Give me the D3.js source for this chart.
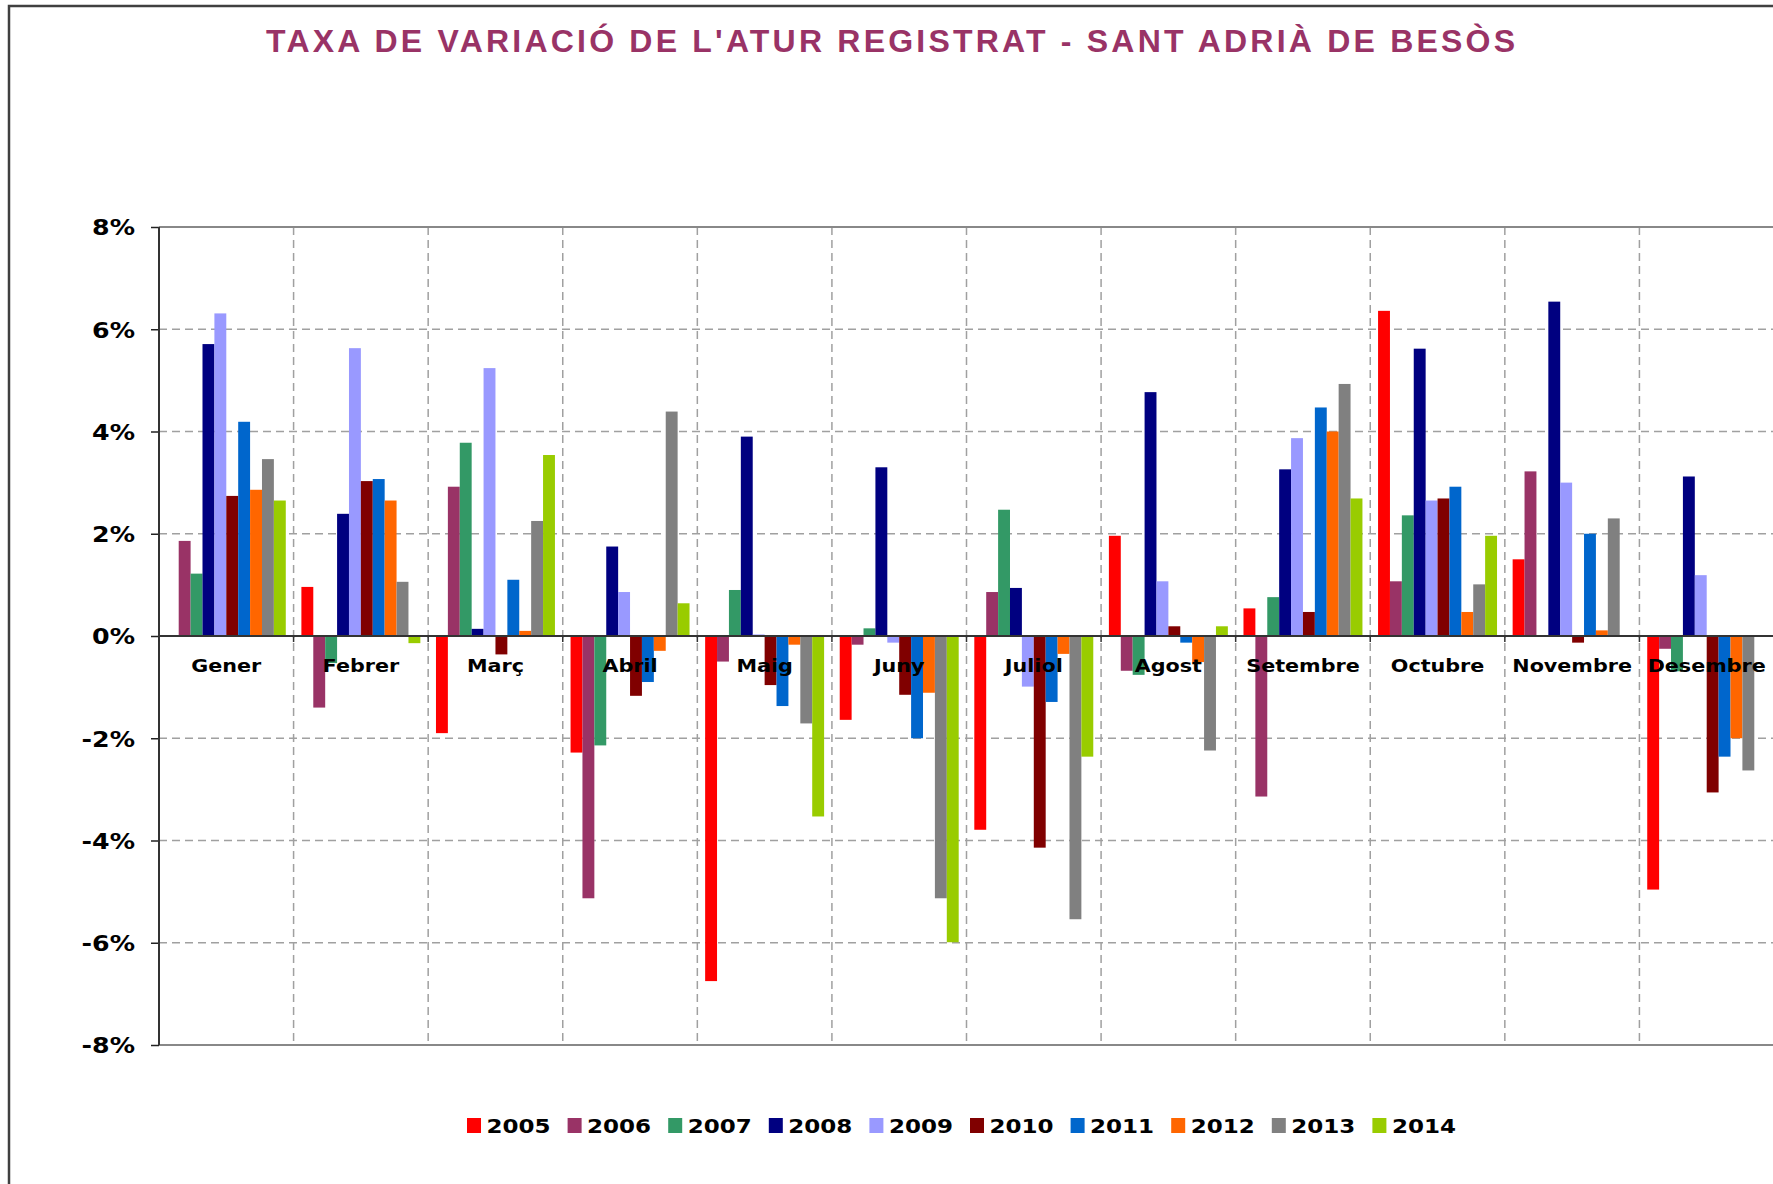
<!DOCTYPE html>
<html>
<head>
<meta charset="utf-8">
<script src="https://cdn.jsdelivr.net/npm/d3@7"></script>
<style>
  body { margin: 0; background: #fff; }
  svg { display: block; }
</style>
</head>
<body>
<div id="chart"></div>
<script>
// months and years
var months = ["Gener", "Febrer", "Març", "Abril", "Maig", "Juny", "Juliol", "Agost", "Setembre", "Octubre", "Novembre", "Desembre"];
var years = ["2005", "2006", "2007", "2008", "2009", "2010", "2011", "2012", "2013", "2014"];

// variation rate in %, one array per year (null = no bar)
var v2005 = [null, 0.96, -1.90, -2.28, -6.75, -1.64, -3.79, 1.96, 0.54, 6.36, 1.50, -4.96];
var v2006 = [1.86, -1.40, 2.92, -5.13, -0.50, -0.17, 0.86, -0.68, -3.14, 1.07, 3.22, -0.25];
var v2007 = [1.22, -0.53, 3.78, -2.14, 0.90, 0.15, 2.47, -0.76, 0.76, 2.36, null, -0.69];
var v2008 = [5.71, 2.39, 0.14, 1.75, 3.90, 3.30, 0.94, 4.77, 3.26, 5.62, 6.54, 3.12];
var v2009 = [6.31, 5.63, 5.24, 0.86, 0.03, -0.13, -0.99, 1.07, 3.87, 2.65, 3.00, 1.19];
var v2010 = [2.74, 3.03, -0.36, -1.17, -0.96, -1.15, -4.14, 0.19, 0.47, 2.69, -0.13, -3.06];
var v2011 = [4.19, 3.07, 1.10, -0.90, -1.37, -2.00, -1.29, -0.13, 4.47, 2.92, 2.00, -2.36];
var v2012 = [2.86, 2.65, 0.10, -0.29, -0.17, -1.11, -0.35, -0.51, 4.00, 0.47, 0.11, -2.00];
var v2013 = [3.46, 1.06, 2.25, 4.39, -1.71, -5.13, -5.54, -2.24, 4.93, 1.01, 2.30, -2.63];
var v2014 = [2.65, -0.14, 3.54, 0.64, -3.53, -5.99, -2.36, 0.19, 2.69, 1.96, null, null];

var yTicks = [-8, -6, -4, -2, 0, 2, 4, 6, 8];
var colors = ["#FF0000", "#993366", "#339966", "#000080", "#9999FF", "#800000", "#0066CC", "#FF6600", "#808080", "#99CC00"];

var series = [v2005, v2006, v2007, v2008, v2009, v2010, v2011, v2012, v2013, v2014];

var W = 1773, H = 1184;
var margin = {left: 159, right: -1, top: 227, bottom: 139};
var plotW = W - margin.left - margin.right,
    plotH = H - margin.top - margin.bottom;
var stretch = 1.15;

var svg = d3.select("#chart").append("svg")
  .attr("width", W)
  .attr("height", H);

// outer frame
svg.append("path")
  .attr("d", "M9," + H + " V6 H" + W)
  .attr("fill", "none")
  .attr("stroke", "#404040")
  .attr("stroke-width", 2.5);

// title
svg.append("text")
  .text("TAXA DE VARIACIÓ DE L'ATUR REGISTRAT - SANT ADRIÀ DE BESÒS")
  .attr("x", 266)
  .attr("y", 52)
  .attr("font-family", "Liberation Sans, Arial, sans-serif")
  .attr("font-weight", "bold")
  .attr("font-size", "32px")
  .attr("fill", "#993366")
  .attr("textLength", 1249)
  .attr("lengthAdjust", "spacing");

var g = svg.append("g")
  .attr("transform", "translate(" + margin.left + "," + margin.top + ")");

var x0 = d3.scaleBand()
  .domain(months)
  .range([0, plotW])
  .paddingInner(0.116)
  .paddingOuter(0.058);

var x1 = d3.scaleBand()
  .domain(years)
  .range([0, x0.bandwidth()]);

var y = d3.scaleLinear()
  .domain([-8, 8])
  .range([plotH, 0]);

var step = x0.step();

// horizontal gridlines
g.selectAll(".hgrid")
  .data(yTicks.filter(function(d) { return d !== 0 && Math.abs(d) !== 8; }))
  .enter().append("line")
    .attr("class", "hgrid")
    .attr("x1", 0).attr("x2", plotW)
    .attr("y1", function(d) { return y(d); })
    .attr("y2", function(d) { return y(d); })
    .attr("stroke", "#a0a0a0")
    .attr("stroke-width", 1.5)
    .attr("stroke-dasharray", "8,5");

// vertical gridlines between months
g.selectAll(".vgrid")
  .data(months.slice(1))
  .enter().append("line")
    .attr("class", "vgrid")
    .attr("x1", function(d, i) { return (i + 1) * step; })
    .attr("x2", function(d, i) { return (i + 1) * step; })
    .attr("y1", 0).attr("y2", plotH)
    .attr("stroke", "#a0a0a0")
    .attr("stroke-width", 1.5)
    .attr("stroke-dasharray", "8,5");

// plot border top / bottom
g.selectAll(".border")
  .data([8, -8])
  .enter().append("line")
    .attr("x1", 0).attr("x2", plotW)
    .attr("y1", function(d) { return y(d); })
    .attr("y2", function(d) { return y(d); })
    .attr("stroke", "#888")
    .attr("stroke-width", 2);

// bars
var groups = g.selectAll(".month")
  .data(months)
  .enter().append("g")
    .attr("class", "month")
    .attr("transform", function(d) { return "translate(" + x0(d) + ",0)"; });

groups.selectAll("rect")
  .data(function(m, mi) {
    return series.map(function(s, si) { return {year: years[si], value: s[mi], color: colors[si]}; })
      .filter(function(d) { return d.value !== null; });
  })
  .enter().append("rect")
    .attr("x", function(d) { return x1(d.year); })
    .attr("width", x1.bandwidth())
    .attr("y", function(d) { return Math.min(y(d.value), y(0)); })
    .attr("height", function(d) { return Math.abs(y(d.value) - y(0)); })
    .attr("fill", function(d) { return d.color; });

// y axis
var yAxis = d3.axisLeft(y)
  .tickValues(yTicks)
  .tickSize(8)
  .tickPadding(16)
  .tickFormat(function(d) { return d + "%"; });

var yAxisG = g.append("g")
  .attr("class", "y-axis")
  .call(yAxis);
yAxisG.select(".domain").remove();
yAxisG.selectAll("line").attr("stroke", "#222").attr("stroke-width", 1.5);
yAxisG.append("line")
  .attr("x1", 0).attr("x2", 0)
  .attr("y1", 0).attr("y2", plotH)
  .attr("stroke", "#333").attr("stroke-width", 2);
yAxisG.selectAll("text")
  .attr("font-family", "DejaVu Sans, Verdana, sans-serif")
  .attr("font-weight", "bold")
  .attr("font-size", "22px")
  .attr("fill", "#000")
  .attr("dy", "0.36em")
  .attr("transform", function(d) { return "translate(-24," + 0 + ") scale(" + stretch + ",1) translate(24,0)"; });

// fix scaled tick labels so they stay right aligned at x = -24
yAxisG.selectAll(".tick text")
  .attr("x", 0)
  .attr("transform", "translate(-24,0) scale(" + stretch + ",1)");

// x axis line at 0
var zeroY = y(0);
g.append("line")
  .attr("x1", 0).attr("x2", plotW)
  .attr("y1", zeroY).attr("y2", zeroY)
  .attr("stroke", "#333").attr("stroke-width", 2);

g.selectAll(".xtick")
  .data(d3.range(0, months.length + 1))
  .enter().append("line")
    .attr("x1", function(d) { return d * step; })
    .attr("x2", function(d) { return d * step; })
    .attr("y1", zeroY).attr("y2", zeroY + 6)
    .attr("stroke", "#333").attr("stroke-width", 1.5);

// month labels
g.selectAll(".mlabel")
  .data(months)
  .enter().append("text")
    .attr("class", "mlabel")
    .text(function(d) { return d; })
    .attr("text-anchor", "middle")
    .attr("font-family", "DejaVu Sans, Verdana, sans-serif")
    .attr("font-weight", "bold")
    .attr("font-size", "18px")
    .attr("fill", "#000")
    .attr("transform", function(d) {
      return "translate(" + (x0(d) - x0.step() * x0.paddingInner() / 2 + step / 2) + "," + (zeroY + 36) + ") scale(" + stretch + ",1)";
    });

// legend
var legend = svg.append("g")
  .attr("transform", "translate(467,1118)");

var item = legend.selectAll(".item")
  .data(years)
  .enter().append("g")
    .attr("class", "item")
    .attr("transform", function(d, i) { return "translate(" + (i * 100.6) + ",0)"; });

item.append("rect")
  .attr("width", 14)
  .attr("height", 15)
  .attr("fill", function(d, i) { return colors[i]; });

item.append("text")
  .text(function(d) { return d; })
  .attr("font-family", "DejaVu Sans, Verdana, sans-serif")
  .attr("font-weight", "bold")
  .attr("font-size", "20px")
  .attr("fill", "#000")
  .attr("transform", "translate(19.5,15) scale(" + stretch + ",1)");
</script>
</body>
</html>
